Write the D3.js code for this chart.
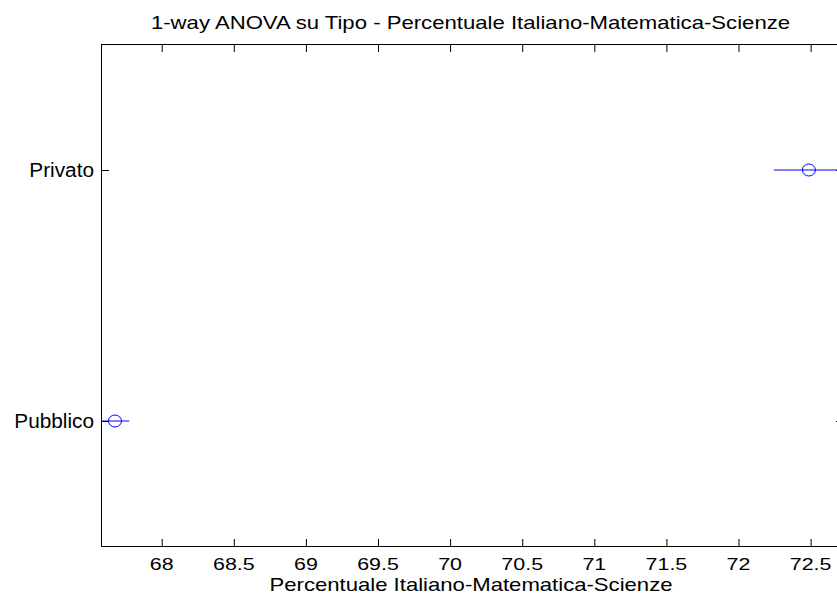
<!DOCTYPE html>
<html>
<head>
<meta charset="utf-8">
<script src="https://cdn.jsdelivr.net/npm/d3@7"></script>
<style>
  html, body { margin: 0; padding: 0; background: #fff; }
  svg { display: block; }
  text { font-family: "Liberation Sans", Arial, Helvetica, sans-serif; fill: #000; }
</style>
</head>
<body>
<script>
// Group comparison intervals (multiple comparison of means)
const groups = ["Privato", "Pubblico"];
const means  = [72.488, 67.676];
const lower  = [72.245, 67.5825];
const upper  = [72.728, 67.775];
const xTicks = [68, 68.5, 69, 69.5, 70, 70.5, 71, 71.5, 72, 72.5];

const title  = "1-way ANOVA su Tipo - Percentuale Italiano-Matematica-Scienze";
const xLabel = "Percentuale Italiano-Matematica-Scienze";

const W = 837, H = 594;
const box = { left: 101.5, right: 843.5, top: 44.5, bottom: 546.5 };
const tickLen = 7.5;

const svg = d3.select("body").append("svg")
  .attr("width", W).attr("height", H);

svg.append("rect").attr("width", W).attr("height", H).attr("fill", "#fff");

// x spans the full range of the intervals
const x = d3.scaleLinear()
  .domain([d3.min(lower), d3.max(upper)])
  .range([box.left, box.right]);

// first group on top, positions n..1 inside [0.5, n+0.5]
const n = groups.length;
const y = d3.scaleLinear()
  .domain([0.5, n + 0.5])
  .range([box.bottom, box.top]);
const yPos = i => y(n - i);

// text drawn with a wide, figure-style glyph stretch
function label(g, str, px, py, size, sx, anchor) {
  return g.append("text")
    .attr("transform", `translate(${px},${py}) scale(${sx},1)`)
    .attr("text-anchor", anchor)
    .attr("font-size", size)
    .text(str);
}

// axes box
svg.append("rect")
  .attr("x", box.left).attr("y", box.top)
  .attr("width", box.right - box.left).attr("height", box.bottom - box.top)
  .attr("fill", "none").attr("stroke", "#000").attr("stroke-width", 1);

// x ticks, inward on bottom and top
const bottomAxis = d3.axisBottom(x).tickValues(xTicks).tickSizeInner(-tickLen).tickSizeOuter(0).tickFormat("");
const gb = svg.append("g").attr("transform", `translate(0,${box.bottom})`).call(bottomAxis);
gb.select(".domain").remove();
gb.selectAll("line").attr("stroke", "#000");

const topAxis = d3.axisTop(x).tickValues(xTicks).tickSizeInner(-tickLen).tickSizeOuter(0).tickFormat("");
const gt = svg.append("g").attr("transform", `translate(0,${box.top})`).call(topAxis);
gt.select(".domain").remove();
gt.selectAll("line").attr("stroke", "#000");

// x tick labels
const fmt = d3.format("~g");
const gxl = svg.append("g");
xTicks.forEach(v => label(gxl, fmt(v), x(v), 569.5, 17, 1.26, "middle"));

// y ticks, inward on left and right
const yTickVals = groups.map((g, i) => n - i);
const leftAxis = d3.axisLeft(y).tickValues(yTickVals).tickSizeInner(-tickLen).tickSizeOuter(0).tickFormat("");
const gl = svg.append("g").attr("transform", `translate(${box.left},0)`).call(leftAxis);
gl.select(".domain").remove();
gl.selectAll("line").attr("stroke", "#000");

const rightAxis = d3.axisRight(y).tickValues(yTickVals).tickSizeInner(-tickLen).tickSizeOuter(0).tickFormat("");
const gr = svg.append("g").attr("transform", `translate(${box.right},0)`).call(rightAxis);
gr.select(".domain").remove();
gr.selectAll("line").attr("stroke", "#000");

// group names
const gyl = svg.append("g");
groups.forEach((name, i) => label(gyl, name, box.left - 7.5, yPos(i) + 7, 20, 1.04, "end"));

// interval lines and mean markers
const plot = svg.append("g");
plot.selectAll("line.ci").data(groups).enter().append("line")
  .attr("class", "ci")
  .attr("x1", (d, i) => x(lower[i])).attr("x2", (d, i) => x(upper[i]))
  .attr("y1", (d, i) => yPos(i)).attr("y2", (d, i) => yPos(i))
  .attr("stroke", "#0000ff").attr("stroke-width", 1);

plot.selectAll("ellipse.mean").data(groups).enter().append("ellipse")
  .attr("class", "mean")
  .attr("cx", (d, i) => x(means[i])).attr("cy", (d, i) => yPos(i))
  .attr("rx", 6.5).attr("ry", 6)
  .attr("fill", "none").attr("stroke", "#0000ff").attr("stroke-width", 1);

// title and axis label
const cx = (box.left + box.right) / 2;
label(svg, title, cx - 2, 28.5, 18.6, 1.19, "middle");
label(svg, xLabel, cx - 1.5, 590.5, 17.7, 1.25, "middle");
</script>
</body>
</html>
